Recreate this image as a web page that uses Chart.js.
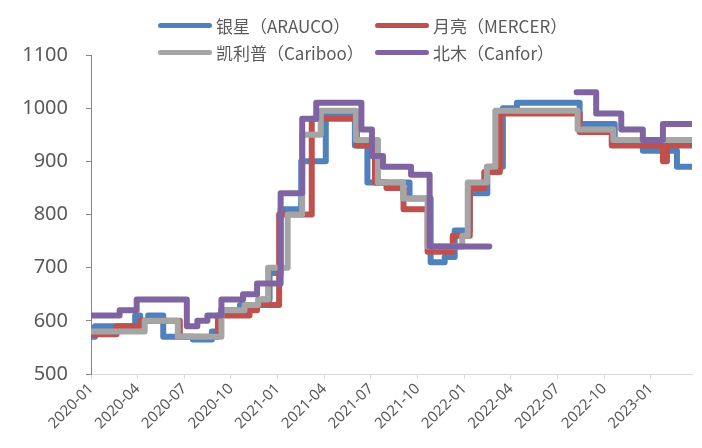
<!DOCTYPE html>
<html>
<head>
<meta charset="utf-8">
<script src="https://cdn.jsdelivr.net/npm/chart.js@4.4.0/dist/chart.umd.min.js"></script>
<style>
  html, body { margin: 0; padding: 0; background: #fff; }
  #wrap { position: relative; width: 702px; height: 448px; }
  #legend {
    position: absolute; left: 158px; top: 12px;
    display: grid; grid-template-columns: 217px auto; grid-auto-rows: 27px;
    font: 17px "Noto Sans CJK SC", "Noto Sans", sans-serif; color: #595959;
  }
  .item { display: flex; align-items: center; white-space: nowrap; }
  .swatch { width: 54px; height: 5px; border-radius: 3px; margin-right: 4px; }
</style>
</head>
<body>
<div id="wrap">
  <canvas id="chart" width="702" height="448"></canvas>
  <div id="legend"></div>
</div>
<script>
// price change dates and levels (USD/t)
var seriesNames = ['银星（ARAUCO）', '月亮（MERCER）', '凯利普（Cariboo）', '北木（Canfor）'];
var seriesColors = ['#4f81bd', '#c0504d', '#a5a5a5', '#8064a2'];

var araucoDates = ['2020-01-01','2020-01-09','2020-03-27','2020-04-06','2020-04-22','2020-05-21','2020-07-18',
  '2020-08-25','2020-09-12','2020-10-19','2020-12-01','2020-12-16','2021-01-07','2021-02-17','2021-04-04',
  '2021-05-31','2021-06-25','2021-09-16','2021-10-27','2021-11-24','2021-12-13','2022-01-12','2022-02-16',
  '2022-03-16','2022-04-13','2022-08-14','2022-10-22','2022-12-16','2023-02-22','2023-03-20'];
var araucoPrices = [570,590,610,600,610,570,565,580,620,630,640,690,810,900,990,930,860,830,710,720,770,840,890,
  1000,1010,970,940,920,890,890];

var mercerDates = ['2020-01-01','2020-02-21','2020-04-06','2020-06-23','2020-09-06','2020-11-07','2020-11-22',
  '2021-01-04','2021-03-07','2021-06-04','2021-07-09','2021-08-01','2021-09-04','2021-10-21','2021-12-09',
  '2022-01-12','2022-02-10','2022-03-10','2022-08-14','2022-10-16','2023-01-25','2023-02-02','2023-03-20'];
var mercerPrices = [575,590,600,570,610,620,630,800,980,930,860,850,810,730,760,850,880,990,955,930,900,930,930];

var caribooDates = ['2020-01-01','2020-04-15','2020-06-19','2020-09-13','2020-10-28','2020-11-24','2020-12-13',
  '2021-01-21','2021-02-19','2021-03-25','2021-06-02','2021-07-15','2021-09-03','2021-10-21','2021-12-28',
  '2022-01-08','2022-02-15','2022-03-01','2022-08-10','2022-10-19','2023-03-20'];
var caribooPrices = [580,600,570,620,630,640,700,800,950,995,940,860,830,740,760,860,890,995,960,940,940];

var canforDates = ['2020-01-01','2020-02-27','2020-03-30','2020-07-06','2020-07-27','2020-08-16','2020-09-13',
  '2020-10-25','2020-11-22','2021-01-07','2021-02-19','2021-03-16','2021-06-13','2021-07-03','2021-07-25',
  '2021-09-19','2021-10-25','2022-02-20','2022-05-01','2022-08-08','2022-09-16','2022-11-04','2022-12-16',
  '2023-01-25','2023-03-20'];
var canforPrices = [610,620,640,590,600,610,640,650,670,840,980,1010,960,910,890,875,740,740,null,1030,990,960,
  940,970,970];

var quarterLabels = ['2020-01','2020-04','2020-07','2020-10','2021-01','2021-04','2021-07','2021-10',
  '2022-01','2022-04','2022-07','2022-10','2023-01'];

// months since 2020-01
function toMonth(s) {
  var p = s.split('-');
  return (+p[0] - 2020) * 12 + (+p[1] - 1) + (+p[2] - 1) / 31;
}
function points(dates, prices) {
  return dates.map(function(d, i) { return {x: toMonth(d), y: prices[i]}; });
}

var allDates = [araucoDates, mercerDates, caribooDates, canforDates];
var allPrices = [araucoPrices, mercerPrices, caribooPrices, canforPrices];

var datasets = seriesNames.map(function(name, i) {
  return {
    label: name,
    data: points(allDates[i], allPrices[i]),
    borderColor: seriesColors[i],
    backgroundColor: seriesColors[i],
    borderWidth: 6,
    borderCapStyle: 'round',
    borderJoinStyle: 'round',
    pointRadius: 0,
    stepped: 'before',   // hold the old price until the change date
    spanGaps: false,
    order: 3 - i
  };
});

var ctx = document.getElementById('chart').getContext('2d');
var chart = new Chart(ctx, {
  type: 'line',
  data: { datasets: datasets },
  options: {
    responsive: false,
    animation: false,
    layout: { padding: { top: 55, right: 10, left: 0, bottom: 0 } },
    plugins: { legend: { display: false }, tooltip: { enabled: false } },
    scales: {
      x: {
        type: 'linear',
        min: 0,
        max: toMonth('2023-03-21'),
        afterFit: function(s) { s.height = 74; },
        border: { color: '#d9d9d9', width: 1 },
        grid: { drawOnChartArea: false, color: '#d9d9d9', tickLength: 5 },
        ticks: {
          stepSize: 3,
          includeBounds: false,
          autoSkip: false,
          minRotation: 45,
          maxRotation: 45,
          padding: 1,
          color: '#595959',
          font: { family: '"Noto Sans", sans-serif', size: 15 },
          callback: function(v) { return quarterLabels[v / 3]; }
        }
      },
      y: {
        min: 500,
        max: 1100,
        afterFit: function(s) { s.width = 91; },
        border: { color: '#868686', width: 1 },
        grid: { drawOnChartArea: false, color: '#868686', tickLength: 5 },
        ticks: {
          stepSize: 100,
          padding: 18,
          color: '#595959',
          font: { family: '"Noto Sans", sans-serif', size: 20 },
          callback: function(v) { return String(v); }
        }
      }
    }
  }
});

// legend in two rows, built from the datasets
var legendBox = document.getElementById('legend');
chart.data.datasets.forEach(function(ds) {
  var item = document.createElement('div');
  item.className = 'item';
  var sw = document.createElement('span');
  sw.className = 'swatch';
  sw.style.background = ds.borderColor;
  var txt = document.createElement('span');
  txt.textContent = ds.label;
  item.appendChild(sw);
  item.appendChild(txt);
  legendBox.appendChild(item);
});
</script>
</body>
</html>
